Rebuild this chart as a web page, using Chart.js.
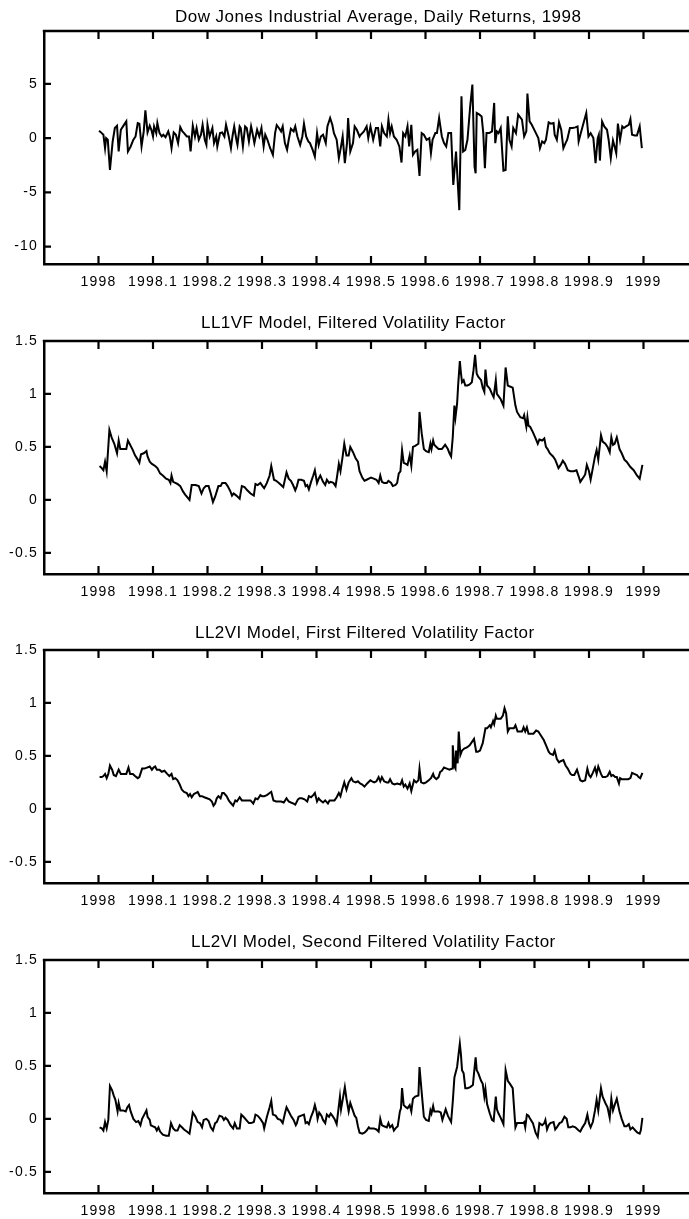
<!DOCTYPE html>
<html>
<head>
<meta charset="utf-8">
<script src="https://cdn.jsdelivr.net/npm/chart.js@4.4.1/dist/chart.umd.min.js"></script>
<style>
  body { margin: 0; background: #fff; overflow: hidden; width: 689px; height: 1219px; position: relative; }
  canvas { position: absolute; left: 0; }
</style>
</head>
<body>
<canvas id="c0" width="760" height="310" style="top:0px"></canvas>
<canvas id="c1" width="760" height="310" style="top:310px"></canvas>
<canvas id="c2" width="760" height="310" style="top:619px"></canvas>
<canvas id="c3" width="760" height="310" style="top:929px"></canvas>
<script>
// x positions are the fraction of 1998 elapsed (x = 1998 + t)
const retT = [.001,.006,.009,.012,.014,.017,.021,.026,.030,.034,.037,.041,.045,.051,.054,.059,.064,.068,.072,.075,
  .079,.083,.086,.090,.094,.097,.100,.102,.106,.108,.112,.116,.119,.123,.128,.131,.134,.138,.142,.146,
  .150,.154,.157,.162,.166,.169,.173,.177,.180,.184,.188,.191,.195,.198,.200,.204,.209,.212,.216,.218,
  .223,.227,.231,.234,.239,.243,.246,.249,.253,.255,.259,.261,.265,.269,.272,.276,.280,.282,.286,.291,
  .295,.299,.303,.306,.310,.315,.320,.324,.327,.331,.335,.338,.342,.346,.349,.353,.358,.361,.365,.370,
  .374,.377,.381,.385,.388,.393,.397,.401,.404,.408,.412,.417,.420,.425,.429,.432,.437,.441,.445,.448,
  .452,.456,.458,.462,.467,.470,.474,.479,
  .481,.487,.492,.495,.499,.504,.509,.513,.517,.520,.524,.529,.532,.535,.538,.542,.547,.552,.556,.559,
  .563,.567,.570,.574,.577,.581,.585,.589,.593,.597,.602,.607,.610,.613,.618,.621,.625,.630,.634,.638,
  .642,.647,.651,.656,.662,.666,.669,.673,.677,.682,.686,.690,.692,.694,.699,.703,.706,.709,.712,.717,
  .722,.726,.728,.731,.734,.738,.743,.747,.751,.754,.758,.761,.766,.770,.777,.781,.785,.787,.791,.795,
  .801,.807,.810,.814,.818,.821,.826,.830,.835,.837,.841,.845,.849,.853,.857,.860,.865,.870,.875,.879,
  .881,.885,.890,.895,.899,.903,.908,.912,.916,.918,.920,.924,.928,.933,.936,.940,.944,.947,.950,.953,
  .957,.961,.964,.968,.973,.976,.979,.984,.988,.993,.997];
const retV = [0.68,0.46,0.31,-0.93,0,-0.15,-2.93,-0.31,0.93,1.14,-1.23,0.77,1.08,1.54,-1.23,-0.77,-0.15,0.15,1.39,1.33,
  -0.77,0.62,2.56,0.52,1.14,0.77,0.15,1.08,0.46,1.39,0.46,0.15,0.31,0.09,0.62,0.09,-0.93,0.52,0.31,-0.46,
  1.02,0.62,0.46,0.15,0.15,-1.23,1.14,0.15,0.93,-0.15,0.31,1.23,-0.15,-0.62,1.23,0.15,0.93,-0.46,0.15,-0.77,
  0.46,0.52,0.15,1.23,0.15,-0.93,0.22,1.08,-0.15,-0.62,1.08,0.93,-0.77,1.08,0.93,-0.31,1.08,0.62,-0.46,0.77,
  0.15,0.93,-0.77,0.31,-0.15,-0.93,-1.54,0.46,1.20,0.93,0.62,1.08,-0.46,-1.08,-0.15,0.86,0.62,1.08,0.15,-0.62,
  0.15,1.33,0.15,-0.31,-0.46,-1.08,-1.70,0.46,-0.62,0.15,0.31,-0.46,1.08,1.85,1.23,0.46,-0.15,-1.85,-0.77,0.15,
  -2.31,-0.46,1.85,-1.23,-0.46,1.08,0.77,0.15,
  0.31,0.62,1.08,0,1.08,-0.15,0.93,0.93,-0.77,1.08,0.46,0.15,1.70,0.46,1.08,0.15,-0.15,-0.77,-2.25,0.46,
  0.15,1.08,-0.77,1.23,-1.54,-1.23,-1.08,-3.49,0.46,0.31,-0.15,0,-1.39,-0.15,0.46,0.46,1.85,0.15,-0.46,-0.77,
  0.46,0.46,-4.32,-1.23,-6.64,3.86,-1.23,-1.08,-0.15,2.93,4.94,-2.62,-3.24,2.31,2.16,2.0,0.46,-2.78,0.46,0.46,
  0.62,3.24,-0.46,0.62,0.46,0.93,-2.99,-2.93,2.0,-0.15,-0.77,0.93,0.46,2.16,1.70,0.15,0.62,4.10,1.54,1.23,
  0.62,0,-0.93,-0.31,-0.46,-0.15,1.45,1.33,1.39,0.31,-0.15,1.45,0.77,-0.93,-0.46,-0.15,0.93,0.93,0.99,1.08,
  -0.31,0.46,1.39,2.31,0.15,0.46,0,-2.31,0,0.31,-2.07,1.54,1.08,0.77,-0.15,-1.85,-0.22,-0.77,-1.39,1.33,
  -0.15,1.08,0.93,1.08,1.23,1.76,0.31,0.25,0.25,1.08,-0.93];

const vf1T = [.002,.006,.009,.012,.015,.020,.024,.029,.034,.037,.040,.045,.051,.054,.058,.063,.067,.072,.075,.078,
  .083,.088,.090,.094,.098,.104,.108,.113,.118,.124,.129,.132,.134,.137,.141,.145,.150,.155,.159,.167,
  .171,.178,.184,.189,.193,.197,.202,.206,.210,.214,.220,.224,.227,.233,.237,.242,.245,.248,.253,.259,
  .263,.268,.273,.279,.285,.288,.292,.297,.301,.304,.309,.314,.317,.322,.326,.331,.335,.339,.345,.349,
  .353,.357,.361,.364,.367,.372,.377,.380,.383,.386,.390,.394,.397,.401,.404,.407,.412,.416,.419,.423,
  .426,.431,.435,.438,.441,.444,.448,.451,.455,.459,.462,.467,.472,.476,.479,.484,.488,.492,.496,
  .500,.505,.510,.514,.517,.520,.524,.529,.532,.537,.540,.545,.548,.551,.554,.557,.560,.564,.567,.571,
  .574,.577,.581,.587,.589,.593,.597,.601,.606,.609,.611,.614,.616,.620,.624,.630,.636,.641,.644,.647,
  .650,.653,.655,.658,.660,.663,.665,.667,.670,.673,.677,.681,.685,.688,.691,.694,.697,.702,.705,.708,
  .710,.713,.718,.722,.725,.729,.731,.734,.738,.743,.747,.751,.755,.760,.765,.768,.774,.779,.781,.785,
  .787,.789,.792,.797,.802,.806,.809,.814,.818,.821,.824,.828,.834,.838,.841,.844,.848,.852,.856,.861,
  .866,.872,.877,.881,.884,.888,.893,.896,.900,.903,.907,.911,.914,.917,.922,.925,.930,.934,.938,.941,
  .944,.947,.951,.956,.960,.965,.969,.976,.982,.988,.993,.995,.998];
const vf1V = [0.32,0.30,0.28,0.36,0.27,0.66,0.59,0.53,0.44,0.56,0.48,0.48,0.48,0.56,0.52,0.47,0.42,0.38,0.35,0.43,
  0.44,0.46,0.41,0.36,0.34,0.32,0.30,0.25,0.23,0.20,0.19,0.16,0.23,0.17,0.16,0.15,0.13,0.08,0.05,0.00,
  0.14,0.14,0.13,0.06,0.11,0.13,0.13,0.06,-0.02,0.03,0.13,0.13,0.16,0.16,0.13,0.08,0.04,0.06,0.04,0.01,
  0.13,0.12,0.09,0.06,0.04,0.15,0.14,0.16,0.13,0.11,0.16,0.23,0.32,0.19,0.18,0.16,0.14,0.12,0.26,0.20,
  0.18,0.14,0.09,0.13,0.19,0.19,0.18,0.13,0.14,0.10,0.17,0.23,0.28,0.16,0.20,0.23,0.17,0.14,0.19,0.16,
  0.17,0.16,0.13,0.23,0.34,0.27,0.41,0.53,0.42,0.42,0.50,0.45,0.39,0.36,0.27,0.21,0.18,0.19,0.20,
  0.21,0.20,0.19,0.16,0.23,0.17,0.16,0.16,0.18,0.16,0.13,0.14,0.16,0.25,0.27,0.47,0.35,0.34,0.33,0.42,
  0.32,0.50,0.51,0.53,0.83,0.63,0.48,0.46,0.45,0.53,0.48,0.56,0.52,0.50,0.48,0.48,0.52,0.48,0.44,0.41,
  0.59,0.89,0.78,0.91,1.09,1.31,1.20,1.11,1.13,1.08,1.08,1.09,1.11,1.22,1.37,1.19,1.16,1.13,1.06,1.02,
  1.23,1.08,1.05,1.00,0.97,1.13,1.00,0.98,0.95,0.89,1.25,1.08,1.07,1.06,0.89,0.83,0.78,0.77,0.80,0.69,
  0.78,0.70,0.69,0.64,0.58,0.53,0.57,0.56,0.58,0.50,0.48,0.44,0.41,0.38,0.34,0.30,0.33,0.37,0.34,0.28,
  0.27,0.27,0.28,0.22,0.17,0.20,0.24,0.33,0.27,0.19,0.30,0.41,0.47,0.38,0.61,0.55,0.53,0.50,0.45,0.59,
  0.52,0.53,0.59,0.48,0.44,0.38,0.36,0.31,0.28,0.23,0.20,0.25,0.33];

const vi1T = [.002,.006,.009,.012,.015,.018,.021,.025,.028,.032,.037,.041,.046,.051,.055,.058,.063,.067,.072,.075,
  .080,.084,.089,.094,.098,.101,.104,.107,.112,.116,.121,.126,.130,.134,.137,.141,.145,.149,.153,.157,
  .162,.165,.168,.171,.175,.179,.182,.186,.190,.194,.199,.204,.208,.211,.214,.217,.220,.224,.227,.230,
  .235,.239,.242,.247,.251,.254,.259,.263,.268,.273,.279,.284,.288,.292,.297,.300,.304,.309,.314,.317,
  .321,.326,.331,.335,.340,.345,.349,.353,.358,.361,.366,.369,.373,.378,.383,.386,.390,.394,.397,.401,
  .404,.407,.412,.416,.421,.424,.429,.433,.437,.441,.444,.447,.451,.455,.459,.464,.467,.472,.476,.480,
  .484,.488,.493,.497,
  .499,.502,.506,.510,.514,.517,.520,.524,.529,.532,.535,.539,.543,.548,.554,.557,.560,.563,.567,.571,
  .574,.577,.579,.583,.587,.589,.592,.597,.601,.606,.610,.614,.616,.620,.624,.627,.630,.634,.639,.644,
  .649,.650,.653,.655,.656,.659,.661,.664,.667,.671,.676,.681,.685,.689,.693,.696,.700,.705,.710,.713,
  .718,.720,.724,.726,.729,.731,.735,.738,.742,.745,.748,.751,.754,.759,.762,.765,.767,.769,.773,.777,
  .780,.783,.786,.789,.792,.798,.803,.807,.812,.817,.822,.826,.829,.834,.837,.841,.845,.848,.853,.857,
  .861,.866,.869,.873,.878,.881,.884,.888,.893,.897,.900,.903,.907,.911,.914,.917,.922,.925,.930,.934,
  .938,.941,.944,.948,.951,.955,.957,.960,.966,.972,.976,.979,.983,.988,.991,.994,.998];
const vi1V = [0.30,0.30,0.31,0.33,0.29,0.33,0.41,0.37,0.32,0.31,0.37,0.33,0.33,0.33,0.39,0.33,0.33,0.31,0.29,0.30,
  0.38,0.38,0.39,0.40,0.37,0.39,0.40,0.37,0.37,0.35,0.36,0.33,0.31,0.33,0.28,0.29,0.27,0.23,0.18,0.16,
  0.15,0.12,0.14,0.11,0.14,0.15,0.16,0.12,0.12,0.11,0.10,0.09,0.07,0.03,0.05,0.10,0.12,0.10,0.15,0.15,
  0.12,0.08,0.06,0.03,0.08,0.07,0.11,0.08,0.08,0.08,0.08,0.05,0.10,0.09,0.13,0.12,0.12,0.13,0.15,0.16,
  0.08,0.07,0.07,0.07,0.06,0.10,0.07,0.06,0.05,0.04,0.09,0.10,0.10,0.09,0.07,0.12,0.11,0.13,0.15,0.07,
  0.10,0.08,0.06,0.08,0.05,0.08,0.08,0.08,0.11,0.15,0.12,0.18,0.25,0.18,0.25,0.29,0.26,0.25,0.26,0.24,
  0.23,0.21,0.24,0.26,
  0.27,0.26,0.25,0.26,0.30,0.26,0.30,0.26,0.25,0.25,0.28,0.24,0.23,0.24,0.23,0.27,0.21,0.23,0.19,0.24,
  0.17,0.23,0.27,0.25,0.27,0.38,0.25,0.24,0.25,0.27,0.29,0.33,0.30,0.28,0.30,0.35,0.36,0.39,0.38,0.37,
  0.38,0.60,0.40,0.38,0.55,0.43,0.73,0.51,0.55,0.57,0.58,0.60,0.63,0.66,0.54,0.54,0.55,0.62,0.76,0.76,
  0.79,0.77,0.83,0.80,0.88,0.85,0.85,0.85,0.88,0.95,0.90,0.73,0.76,0.76,0.76,0.79,0.76,0.73,0.73,0.73,
  0.77,0.73,0.77,0.71,0.71,0.71,0.74,0.73,0.69,0.65,0.59,0.54,0.52,0.51,0.55,0.47,0.44,0.45,0.46,0.41,
  0.38,0.33,0.32,0.32,0.37,0.32,0.27,0.26,0.27,0.38,0.32,0.30,0.34,0.39,0.33,0.40,0.33,0.30,0.30,0.31,
  0.35,0.31,0.32,0.30,0.30,0.24,0.29,0.28,0.28,0.28,0.29,0.34,0.33,0.32,0.30,0.29,0.34];

const vi2T = [.002,.006,.009,.012,.015,.018,.021,.025,.028,.031,.035,.037,.040,.045,.050,.053,.056,.059,.064,.069,
  .073,.077,.080,.084,.088,.090,.094,.096,.100,.104,.107,.110,.113,.118,.124,.129,.133,.137,.141,.145,
  .149,.153,.157,.162,.167,.170,.173,.178,.182,.186,.190,.193,.198,.202,.206,.210,.214,.217,.222,.227,
  .230,.233,.237,.242,.247,.250,.254,.259,.262,.266,.271,.276,.280,.285,.288,.292,.297,.302,.304,.309,
  .314,.317,.320,.325,.329,.334,.338,.342,.345,.349,.353,.358,.362,.364,.367,.372,.377,.380,.383,.386,
  .390,.394,.397,.400,.402,.405,.409,.412,.416,.419,.423,.426,.429,.433,.437,.440,.443,.445,.449,.452,
  .455,.459,.462,.466,.470,.473,.476,.479,.484,.488,.492,.496,
  .498,.505,.510,.514,.517,.520,.524,.529,.532,.535,.539,.542,.545,.549,.553,.555,.557,.560,.564,.567,
  .571,.574,.577,.581,.587,.589,.593,.597,.601,.606,.609,.611,.614,.616,.620,.624,.628,.631,.634,.637,
  .641,.644,.647,.650,.653,.655,.658,.660,.663,.665,.667,.670,.673,.677,.682,.687,.689,.692,.694,.697,
  .702,.705,.708,.710,.713,.718,.722,.725,.729,.731,.734,.738,.743,.747,.751,.755,.760,.765,.768,.774,
  .779,.781,.783,.786,.789,.792,.797,.802,.806,.809,.814,.818,.820,.823,.826,.829,.835,.838,.841,.846,
  .850,.855,.859,.862,.866,.870,.875,.881,.884,.888,.893,.897,.900,.903,.907,.911,.914,.917,.922,.925,
  .930,.934,.938,.941,.944,.947,.951,.956,.960,.965,.969,.973,.976,.980,.985,.989,.993,.995,.998];
const vi2V = [-0.08,-0.09,-0.11,-0.03,-0.09,-0.01,0.31,0.27,0.22,0.18,0.07,0.15,0.08,0.08,0.07,0.11,0.13,0.07,0.00,-0.03,
  -0.02,-0.06,0.00,0.04,0.08,0.02,-0.01,-0.06,-0.07,-0.08,-0.11,-0.08,-0.12,-0.15,-0.16,-0.16,-0.04,-0.09,-0.11,-0.11,
  -0.06,-0.08,-0.10,-0.12,-0.14,-0.04,0.06,0.02,-0.03,-0.04,-0.08,-0.01,0.00,-0.02,-0.08,-0.11,-0.04,-0.03,0.03,0.02,
  -0.01,0.01,-0.01,-0.06,-0.09,-0.04,-0.09,-0.09,0.04,0.02,-0.01,-0.04,-0.04,-0.03,0.04,0.03,0.00,-0.04,-0.09,0.02,
  0.11,0.17,0.04,0.03,0.00,-0.01,-0.04,0.05,0.11,0.07,0.03,-0.01,-0.06,-0.04,0.02,0.03,0.04,-0.04,-0.03,-0.05,
  0.02,0.07,0.13,0.07,0.00,0.06,0.03,-0.01,-0.04,0.04,0.02,0.05,0.03,0.00,-0.05,0.08,0.21,0.09,0.21,0.30,
  0.19,0.07,0.15,0.09,0.03,0.01,-0.07,-0.13,-0.14,-0.13,-0.11,-0.08,
  -0.09,-0.09,-0.10,-0.12,0.00,-0.06,-0.07,-0.08,-0.04,-0.08,-0.06,-0.11,-0.09,-0.07,0.07,0.10,0.29,0.13,0.11,0.10,
  0.13,0.07,0.19,0.21,0.22,0.49,0.25,0.02,-0.01,-0.02,0.08,0.05,0.12,0.07,0.07,0.07,0.06,-0.01,0.04,0.09,
  0.03,0.00,-0.03,0.16,0.39,0.43,0.49,0.58,0.71,0.61,0.46,0.43,0.29,0.29,0.30,0.32,0.43,0.58,0.46,0.43,
  0.36,0.33,0.21,0.28,0.14,0.05,-0.01,-0.02,0.21,0.09,0.05,0.01,-0.05,0.46,0.36,0.33,0.29,-0.08,-0.04,-0.04,
  -0.04,-0.03,-0.08,0.04,0.03,0.00,-0.04,-0.13,-0.17,-0.04,-0.06,-0.04,-0.01,-0.10,-0.06,-0.04,-0.03,-0.10,-0.08,-0.04,
  -0.03,0.02,0.00,-0.08,-0.08,-0.07,-0.08,-0.11,-0.12,-0.08,-0.04,0.04,-0.04,-0.08,-0.03,0.08,0.18,0.08,0.29,0.21,
  0.15,0.11,0.01,0.19,0.08,0.13,0.19,0.07,0.00,-0.07,-0.07,-0.05,-0.10,-0.08,-0.11,-0.13,-0.14,-0.11,0.01];

const xTicks = [1998, 1998.1, 1998.2, 1998.3, 1998.4, 1998.5, 1998.6, 1998.7, 1998.8, 1998.9, 1999];
const xTickLabels = ['1998', '1998.1', '1998.2', '1998.3', '1998.4', '1998.5', '1998.6', '1998.7', '1998.8', '1998.9', '1999'];
const retTicks = [-10, -5, 0, 5];
const volTicks = [-0.5, 0, 0.5, 1, 1.5];
const titles = [
  'Dow Jones Industrial Average, Daily Returns, 1998',
  'LL1VF Model, Filtered Volatility Factor',
  'LL2VI Model, First Filtered Volatility Factor',
  'LL2VI Model, Second Filtered Volatility Factor'
];

const FONT = "'Liberation Sans', Arial, Helvetica, sans-serif";
Chart.defaults.font.family = FONT;
Chart.defaults.color = '#000';

// top border, inward tick marks and the panel title
const framePlugin = {
  id: 'frame',
  beforeDraw(chart) {
    // the original lettering is a little wide; spread the tick labels
    chart.ctx.letterSpacing = '1.2px';
  },
  afterDraw(chart, args, opts) {
    const { ctx, chartArea: a } = chart;
    const x = chart.scales.x, y = chart.scales.y;
    ctx.save();
    ctx.strokeStyle = '#000';
    ctx.lineWidth = 2.4;
    ctx.beginPath();
    ctx.moveTo(a.left - 1.2, a.top);
    ctx.lineTo(a.right, a.top);
    ctx.stroke();
    ctx.lineWidth = 2.2;
    ctx.beginPath();
    xTicks.forEach(v => {
      const px = x.getPixelForValue(v);
      ctx.moveTo(px, a.top);
      ctx.lineTo(px, a.top + 8);
      ctx.moveTo(px, a.bottom);
      ctx.lineTo(px, a.bottom - 8);
    });
    opts.yTicks.forEach(v => {
      const py = y.getPixelForValue(v);
      ctx.moveTo(a.left, py);
      ctx.lineTo(a.left + 7, py);
    });
    ctx.stroke();
    ctx.fillStyle = '#000';
    ctx.font = '17px ' + FONT;
    ctx.letterSpacing = '0.45px';
    ctx.textAlign = 'left';
    ctx.textBaseline = 'alphabetic';
    ctx.fillText(opts.title, opts.titleX, opts.titleY);
    ctx.restore();
  }
};

function makeChart(id, t, v, yMin, yMax, yTicks, title, titleX, titleY) {
  const pts = t.map((f, i) => ({ x: 1998 + f, y: v[i] }));
  return new Chart(document.getElementById(id), {
    type: 'line',
    data: {
      datasets: [{
        data: pts,
        borderColor: '#000',
        borderWidth: 2,
        pointRadius: 0,
        tension: 0,
        fill: false
      }]
    },
    options: {
      responsive: false,
      animation: false,
      devicePixelRatio: 1,
      layout: { padding: { top: 31, right: 62, left: 0, bottom: 0 } },
      plugins: {
        legend: { display: false },
        tooltip: { enabled: false },
        frame: { yTicks: yTicks, title: title, titleX: titleX, titleY: titleY }
      },
      scales: {
        x: {
          type: 'linear',
          min: 1997.9,
          max: 1999.1,
          afterBuildTicks: s => { s.ticks = xTicks.map(val => ({ value: val })); },
          afterFit: s => { s.height = 46; },
          grid: { display: false, drawTicks: false },
          border: { display: true, color: '#000', width: 2.5 },
          ticks: {
            autoSkip: false,
            maxRotation: 0,
            padding: 10,
            color: '#000',
            font: { size: 14 },
            callback: (val, i) => xTickLabels[i]
          }
        },
        y: {
          min: yMin,
          max: yMax,
          afterBuildTicks: s => { s.ticks = yTicks.map(val => ({ value: val })); },
          afterFit: s => { s.width = 44; },
          grid: { display: false, drawTicks: false },
          border: { display: true, color: '#000', width: 2.5 },
          ticks: {
            padding: 6,
            color: '#000',
            font: { size: 14 },
            callback: val => String(val)
          }
        }
      }
    },
    plugins: [framePlugin]
  });
}

makeChart('c0', retT, retV, -11.6, 9.87, retTicks, titles[0], 175, 22);
makeChart('c1', vf1T, vf1V, -0.7, 1.5, volTicks, titles[1], 201, 18);
makeChart('c2', vi1T, vi1V, -0.7, 1.5, volTicks, titles[2], 195, 19);
makeChart('c3', vi2T, vi2V, -0.7, 1.5, volTicks, titles[3], 191, 18);
</script>
</body>
</html>
